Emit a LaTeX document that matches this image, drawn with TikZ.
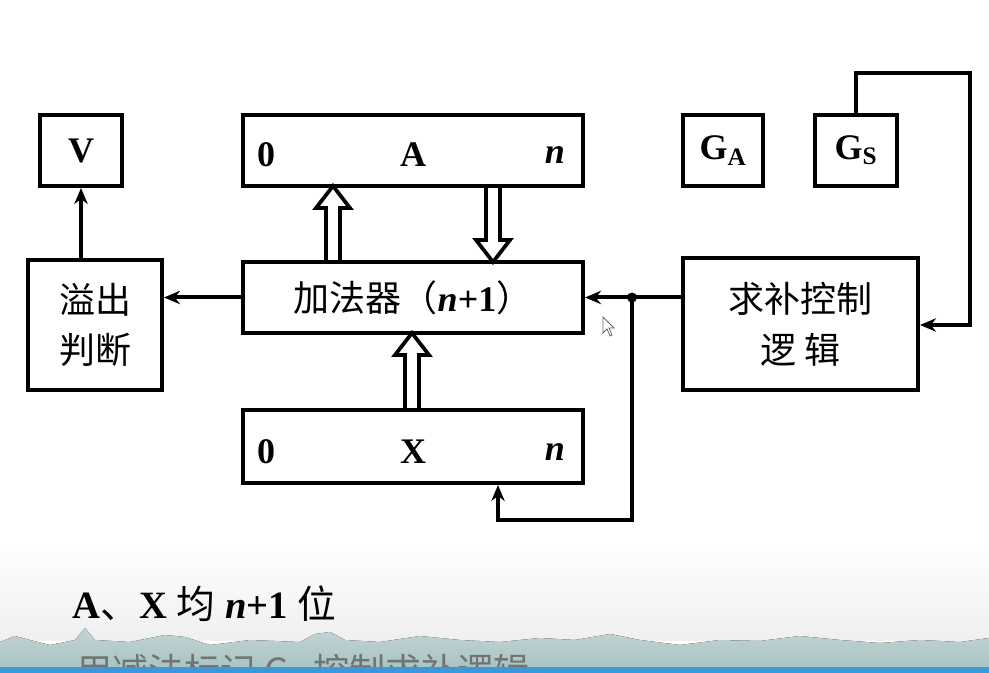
\documentclass[tikz,border=0pt]{standalone}
\usepackage{fontspec}
\setmainfont{Liberation Serif}
\newfontfamily\cjk{Noto Sans CJK SC}
\usetikzlibrary{arrows.meta}
\tikzset{
 blk/.style={draw,line width=3pt,inner sep=0pt},
 conn/.style={line width=3pt,-{Stealth[length=12pt,width=10pt]}},
 wire/.style={line width=3pt},
 lab/.style={font=\bfseries\fontsize{27}{29}\selectfont},
 zh/.style={font=\cjk\fontsize{27}{38}\selectfont,align=center},
 hol/.style={line width=2.8pt,fill=white,line join=miter}
}
\newcommand{\lt}[1]{{\rmfamily\fontspec{Liberation Serif}\bfseries #1}}
\newcommand{\holup}[3]{% x, y bottom, y top (pixel coords, y down)
 \draw[hol] (#1-7,#2)--(#1-7,#3+22)--(#1-17,#3+22)--(#1,#3)--(#1+17,#3+22)--(#1+7,#3+22)--(#1+7,#2)--cycle;}
\newcommand{\holdown}[3]{% x, y top, y bottom
 \draw[hol] (#1-7,#2)--(#1-7,#3-22)--(#1-17,#3-22)--(#1,#3)--(#1+17,#3-22)--(#1+7,#3-22)--(#1+7,#2)--cycle;}
\begin{document}
\begin{tikzpicture}[x=0.75pt,y=-0.75pt]
\useasboundingbox (0,0) rectangle (989,673);
\fill[white] (0,0) rectangle (989,673);
% bottom band
\fill[top color=white,bottom color=black!6] (0,540) rectangle (989,640);
\fill[top color=cyan!15!gray!40,bottom color=cyan!20!gray!60]
 (0,642) -- (15,636) -- (30,640) -- (50,645) -- (75,640) -- (85,628) -- (95,640) -- (130,642) -- (165,635) -- (185,637) -- (210,645)
 -- (250,640) -- (300,642) -- (315,634) -- (330,632) -- (345,640) -- (380,642) -- (420,636) -- (460,640) -- (500,642)
 -- (540,638) -- (575,640) -- (610,634) -- (640,640) -- (680,645) -- (720,640) -- (760,641) -- (800,636) -- (840,640)
 -- (880,643) -- (920,640) -- (960,642) -- (989,638) -- (989,673) -- (0,673) -- cycle;
\node[anchor=west,text=black!55,font=\cjk\fontsize{27}{30}\selectfont] (t2) at (72,673) {用减法标记 G\textsubscript{S} 控制求补逻辑};
\fill[cyan!70!blue!80] (0,667) rectangle (989,673);
\node[anchor=west,font=\fontsize{29}{32}\selectfont] (t1) at (68,604) {\textbf{A}{\cjk 、}\textbf{X} {\cjk 均} \textbf{\textit{n}+1} {\cjk 位}};
% boxes
\node[blk,minimum width=82pt*0.75,minimum height=71pt*0.75,lab] (V) at (81,150.5) {V};
\node[blk,minimum width=340pt*0.75,minimum height=71pt*0.75] (A) at (413,150.5) {};
\node[lab] (A0) at (266,155) {0}; \node[lab] (AA) at (413,155) {A}; \node[lab] (An) at (555,155) {\textit{n}};
\node[blk,minimum width=80pt*0.75,minimum height=71pt*0.75,lab] (GA) at (723,150.5) {G\textsubscript{A}};
\node[blk,minimum width=82pt*0.75,minimum height=71pt*0.75,lab] (GS) at (856,150.5) {G\textsubscript{S}};
\node[blk,minimum width=134pt*0.75,minimum height=130pt*0.75,zh] (OV) at (95,325) {溢出\\判断};
\node[blk,minimum width=340pt*0.75,minimum height=71pt*0.75,zh] (ADD) at (413,297.5) {加法器（\lt{\textit{n}+1}）};
\node[blk,minimum width=235pt*0.75,minimum height=132pt*0.75,zh] (NEG) at (800.5,324) {求补控制\\逻\ 辑};
\node[blk,minimum width=340pt*0.75,minimum height=73pt*0.75] (X) at (413,446.5) {};
\node[lab] (X0) at (266,452) {0}; \node[lab] (XX) at (413,452) {X}; \node[lab] (Xn) at (555,452) {\textit{n}};
% connectors
\draw[conn] (OV.north -| V) -- (V.south);
\draw[conn] (ADD.west) -- (OV.east |- ADD.west);
\coordinate (dot) at (632,297.5);
\draw[conn] (NEG.west |- ADD.east) -- (ADD.east);
\fill (dot) circle (5);
\coordinate (c1) at (632,520); \coordinate (c2) at (498,520);
\draw[wire,line join=miter,-{Stealth[length=12pt,width=10pt]}] (dot) -- (c1) -- (c2) -- (c2 |- X.south);
\coordinate (g2) at (970,73); \coordinate (g3) at (970,325);
\draw[wire,line join=miter,-{Stealth[length=12pt,width=10pt]}] (GS.north) -- (GS.north |- g2) -- (g2) -- (g3) -- (NEG.east |- g3);
% hollow bus arrows
\holup{333}{262}{186}
\holdown{493}{186}{262}
\holup{412}{410}{333}
% cursor
\draw[black!60,fill=white,line width=0.6pt] (603,317)--(603,333)--(607,329)--(610,336)--(612,335)--(609,328)--(614,328)--cycle;
\end{tikzpicture}
\end{document}
